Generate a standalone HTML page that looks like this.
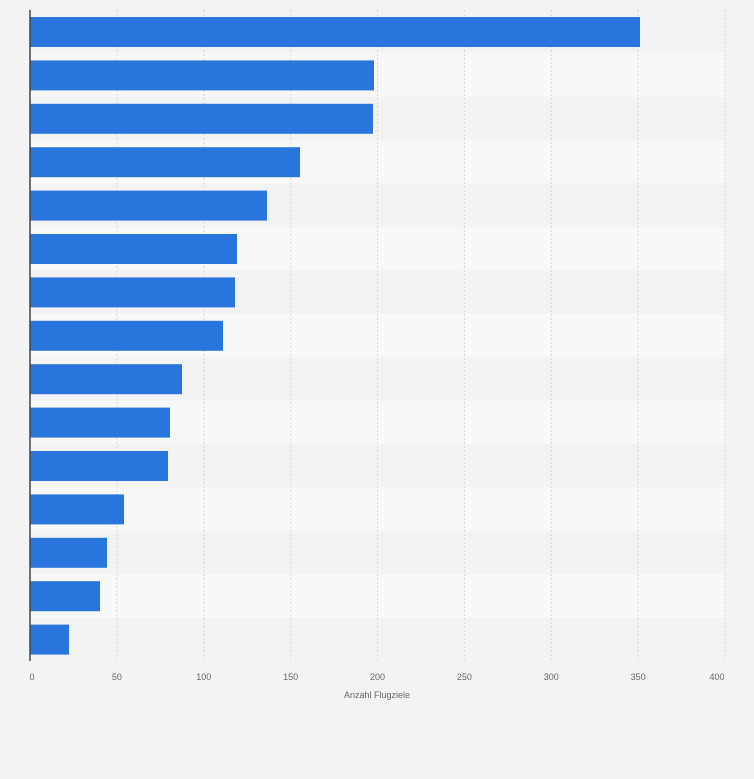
<!DOCTYPE html><html><head><style>body{margin:0;background:#f3f3f3;}svg{display:block}</style></head><body>
<svg width="754" height="779" xmlns="http://www.w3.org/2000/svg" font-family="Liberation Sans, sans-serif">
<rect width="754" height="779" fill="#f3f3f3"/>
<g fill="#f8f8f8">
<rect x="30" y="53.4" width="695" height="43.4"/>
<rect x="30" y="140.2" width="695" height="43.4"/>
<rect x="30" y="227" width="695" height="43.4"/>
<rect x="30" y="313.8" width="695" height="43.4"/>
<rect x="30" y="400.6" width="695" height="43.4"/>
<rect x="30" y="487.4" width="695" height="43.4"/>
<rect x="30" y="574.2" width="695" height="43.4"/>
</g>
<g stroke="#d8d8d8" stroke-dasharray="2,2">
<line x1="116.9" y1="10" x2="116.9" y2="661"/>
<line x1="203.75" y1="10" x2="203.75" y2="661"/>
<line x1="290.6" y1="10" x2="290.6" y2="661"/>
<line x1="377.5" y1="10" x2="377.5" y2="661"/>
<line x1="464.4" y1="10" x2="464.4" y2="661"/>
<line x1="551.25" y1="10" x2="551.25" y2="661"/>
<line x1="638.1" y1="10" x2="638.1" y2="661"/>
<line x1="725" y1="10" x2="725" y2="661"/>
</g>
<g fill="#2876dd">
<rect x="30" y="17" width="610" height="30"/>
<rect x="30" y="60.4" width="344" height="30"/>
<rect x="30" y="103.8" width="343" height="30"/>
<rect x="30" y="147.2" width="270" height="30"/>
<rect x="30" y="190.6" width="237" height="30"/>
<rect x="30" y="234" width="207" height="30"/>
<rect x="30" y="277.4" width="205" height="30"/>
<rect x="30" y="320.8" width="193" height="30"/>
<rect x="30" y="364.2" width="152" height="30"/>
<rect x="30" y="407.6" width="140" height="30"/>
<rect x="30" y="451" width="138" height="30"/>
<rect x="30" y="494.4" width="94" height="30"/>
<rect x="30" y="537.8" width="77" height="30"/>
<rect x="30" y="581.2" width="70" height="30"/>
<rect x="30" y="624.6" width="39" height="30"/>
</g>
<line x1="30" y1="10" x2="30" y2="661" stroke="#444" stroke-width="1.5"/>
<g font-size="9" fill="#666" text-anchor="middle">
<text x="32" y="680">0</text>
<text x="116.9" y="680">50</text>
<text x="203.75" y="680">100</text>
<text x="290.6" y="680">150</text>
<text x="377.5" y="680">200</text>
<text x="464.4" y="680">250</text>
<text x="551.25" y="680">300</text>
<text x="638.1" y="680">350</text>
<text x="717" y="680">400</text>
<text x="377" y="698">Anzahl Flugziele</text>
</g>
</svg></body></html>
